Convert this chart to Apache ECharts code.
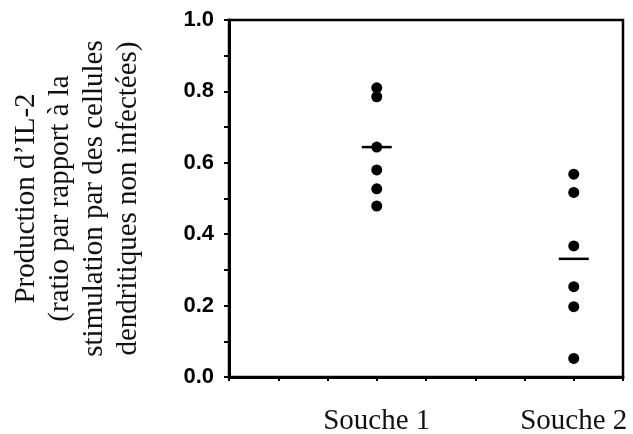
<!DOCTYPE html>
<html>
<head>
<meta charset="utf-8">
<script src="https://cdn.jsdelivr.net/npm/echarts@6/dist/echarts.min.js"></script>
<style>
  html, body { margin: 0; padding: 0; background: #fff; }
  #chart { width: 633px; height: 434px; }
</style>
</head>
<body>
<div id="chart"></div>
<script>
// groups and where they sit on the x scale (0..8)
const groups = ['Souche 1', 'Souche 2'];
const groupX = [3, 7];

// IL-2 ratio per experiment
const souche1 = [0.81, 0.785, 0.644, 0.58, 0.527, 0.479];
const souche2 = [0.568, 0.517, 0.367, 0.253, 0.197, 0.052];
// mean bars
const means = [0.644, 0.331];

const yTicks = [0, 0.2, 0.4, 0.6, 0.8, 1.0];

const chart = echarts.init(document.getElementById('chart'));

const ptsOf = (vals, x) => vals.map(v => [x, v]);

const option = {
    animation: false,
    grid: {
        left: 229, right: 10, top: 20, bottom: 57,
        containLabel: false, outerBoundsMode: 'none',
        show: true, borderColor: '#000', borderWidth: 2.5
    },
    xAxis: {
        type: 'value', min: 0, max: 8, interval: 1,
        splitLine: { show: false },
        axisLine: { lineStyle: { color: '#000', width: 3 } },
        axisTick: { inside: false, length: 4, lineStyle: { color: '#000', width: 2 } },
        axisLabel: {
            margin: 30,
            fontFamily: 'Liberation Serif', fontSize: 29, color: '#111',
            formatter: v => {
                const i = groupX.indexOf(v);
                return i >= 0 ? groups[i] : '';
            }
        }
    },
    yAxis: {
        type: 'value', min: 0, max: 1, interval: 0.2,
        splitLine: { show: false },
        axisLine: { lineStyle: { color: '#000', width: 3 } },
        axisTick: { length: 5, lineStyle: { color: '#000', width: 2 } },
        minorTick: { show: true, splitNumber: 2, length: 5, lineStyle: { color: '#000', width: 2 } },
        minorSplitLine: { show: false },
        axisLabel: {
            margin: 15,
            fontFamily: 'Liberation Sans', fontWeight: 'bold', fontSize: 22, color: '#000',
            formatter: v => yTicks.includes(+v.toFixed(1)) ? v.toFixed(1) : ''
        },
        name: 'Production d\u2019IL-2\n(ratio par rapport à la\nstimulation par des cellules\ndendritiques non infectées)',
        nameLocation: 'middle',
        nameRotate: 90,
        nameGap: 84,
        nameTextStyle: {
            fontFamily: 'Liberation Serif', fontSize: 29, color: '#111', lineHeight: 34
        }
    },
    series: [
        {
            type: 'scatter', data: ptsOf(souche1, groupX[0]),
            symbolSize: 11, itemStyle: { color: '#000', opacity: 1 }
        },
        {
            type: 'scatter', data: ptsOf(souche2, groupX[1]),
            symbolSize: 11, itemStyle: { color: '#000', opacity: 1 }
        },
        {
            type: 'scatter', data: means.map((m, i) => [groupX[i], m]),
            symbol: 'rect', symbolSize: [30, 2.5],
            itemStyle: { color: '#000', opacity: 1 }, z: 3
        }
    ]
};

chart.setOption(option);
</script>
</body>
</html>
